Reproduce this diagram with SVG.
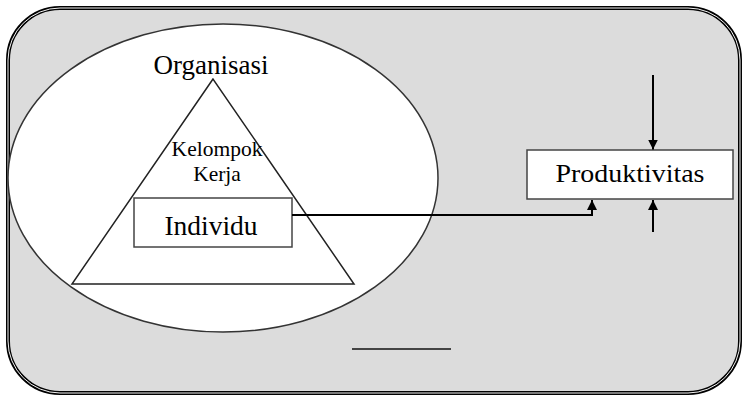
<svg xmlns="http://www.w3.org/2000/svg" width="744" height="398" viewBox="0 0 744 398">
  <style>
    .lbl { font-family: "Liberation Serif", "Times New Roman", serif; fill: #000; text-anchor: middle; }
    .box { fill: #fff; stroke: #444; stroke-width: 1.5; }
    .wire { fill: none; stroke: #000; stroke-width: 2; }
  </style>
  <defs>
    <marker id="arrow" viewBox="0 0 10 10" refX="10" refY="5" markerWidth="10" markerHeight="10" markerUnits="userSpaceOnUse" orient="auto">
      <path d="M0,0 L10,5 L0,10 Z" fill="#000"/>
    </marker>
  </defs>

  <!-- background frame with double border -->
  <g id="frame">
    <rect x="8" y="8" width="732" height="385" rx="52" ry="52" fill="#dcdcdc" stroke="#000" stroke-width="4"/>
    <rect x="8" y="8" width="732" height="385" rx="52" ry="52" fill="none" stroke="#f4f4f4" stroke-width="1"/>
  </g>

  <!-- organisation ellipse -->
  <g id="organisasi">
    <ellipse cx="223" cy="178" rx="215" ry="154" fill="#fff" stroke="#333" stroke-width="1.5"/>
    <text class="lbl" x="211" y="74" font-size="27">Organisasi</text>
  </g>

  <!-- work group triangle -->
  <g id="kelompok-kerja">
    <polygon points="213,79 72,284 354,284" fill="#fff" stroke="#222" stroke-width="1.5"/>
    <text class="lbl" x="217" y="156" font-size="21.5">Kelompok</text>
    <text class="lbl" x="217" y="181" font-size="21.5">Kerja</text>
  </g>

  <!-- individual box -->
  <g id="individu">
    <rect class="box" x="134" y="198" width="158" height="49"/>
    <text class="lbl" x="211" y="235" font-size="27.5">Individu</text>
  </g>

  <!-- productivity box -->
  <g id="produktivitas">
    <rect class="box" x="527" y="150" width="206" height="49"/>
    <text class="lbl" x="630" y="182" font-size="25" textLength="149" lengthAdjust="spacingAndGlyphs">Produktivitas</text>
  </g>

  <!-- connectors -->
  <g id="connectors">
    <polyline class="wire" points="292,215 592,215 592,200" marker-end="url(#arrow)"/>
    <line class="wire" x1="653" y1="75" x2="653" y2="149.5" stroke-width="1.8" marker-end="url(#arrow)"/>
    <line class="wire" x1="653" y1="232" x2="653" y2="200" stroke-width="1.8" marker-end="url(#arrow)"/>
    <line x1="352" y1="349" x2="451" y2="349" stroke="#444" stroke-width="2"/>
  </g>
</svg>
